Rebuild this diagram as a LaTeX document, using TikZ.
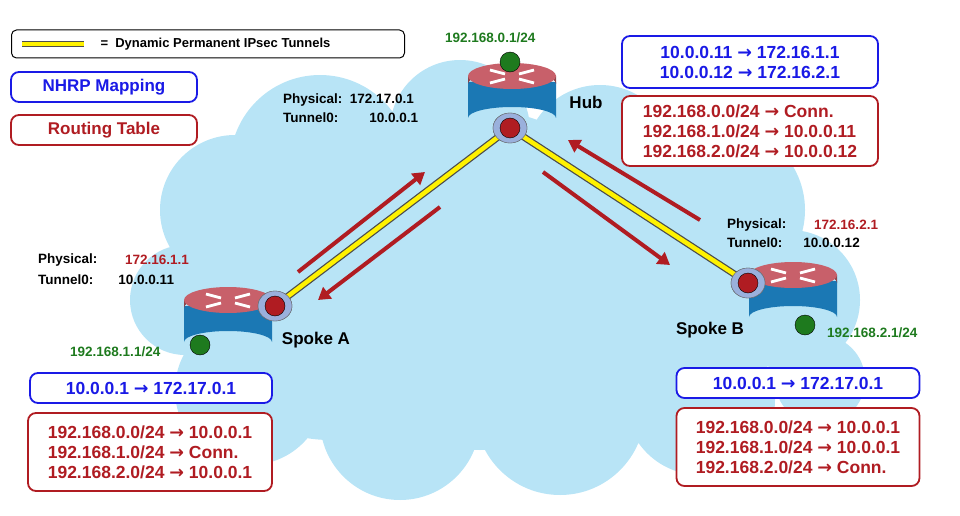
\documentclass[tikz,border=0pt]{standalone}
\usepackage{fontspec}
\setmainfont{Liberation Sans}
\newfontfamily\arrf{DejaVu Sans}
\newcommand{\ar}{{\arrf\bfseries →}}
\usetikzlibrary{arrows.meta,shapes.geometric}
\definecolor{cloud}{HTML}{B8E4F6}
\definecolor{nblue}{HTML}{1A1AE6}
\definecolor{nred}{HTML}{B01C22}
\definecolor{ngreen}{HTML}{1E7A1E}
\definecolor{rtop}{HTML}{C8606A}
\definecolor{rbody}{HTML}{1B78B4}
\definecolor{iface}{HTML}{9AB0DC}
\begin{document}
\begin{tikzpicture}[x=1pt,y=-1pt,
  box/.style={draw,rounded corners=8pt,line width=1.8pt,fill=white},
  bbox/.style={box,draw=nblue,text=nblue,font=\bfseries\fontsize{17.5}{20}\selectfont,align=center},
  rbox/.style={box,draw=nred,text=nred,font=\bfseries\fontsize{17.5}{20}\selectfont,align=left},
  lab/.style={font=\bfseries\fontsize{13.5}{15}\selectfont,anchor=west,inner sep=0},
  glab/.style={lab,text=ngreen},
  big/.style={font=\bfseries\fontsize{17}{19}\selectfont},
  tun/.style={draw=black!70,line width=7pt},
  tunin/.style={draw=yellow,line width=4.5pt},
  ifc/.style={ellipse,fill=iface,draw=black!60,minimum width=34pt,minimum height=30pt,inner sep=0},
  rarr/.style={draw=nred,line width=4pt,-{Triangle[length=12pt,width=14pt]}},
  router/.pic={
    \fill[rbody] (-44,0) -- (-44,36) arc[start angle=180,end angle=360,x radius=44,y radius=11] -- (44,0) -- cycle;
    \fill[rtop!70!black] (-44,-6) -- (-44,2) arc[start angle=180,end angle=360,x radius=44,y radius=13] -- (44,-6) -- cycle;
    \fill[rtop] (0,-6) ellipse[x radius=44,y radius=13];
    \draw[white,line width=2.8pt] (-22,-12) -- (-7,-8) (22,1) -- (7,-3) (22,-12) -- (7,-8) (-22,1) -- (-7,-3);
  }]
\useasboundingbox (0,0) rectangle (960,516);
% cloud
\fill[cloud] (235,210) circle[radius=75] (320,165) circle[radius=90] (460,130) circle[radius=70]
 (600,160) circle[radius=75] (720,210) circle[radius=85] (790,300) circle[radius=70]
 (700,400) circle[radius=75] (560,410) circle[radius=85] (400,420) circle[radius=80]
 (250,390) circle[radius=75] (185,300) circle[radius=55] (480,280) circle[radius=170]
 (620,300) circle[radius=140] (330,300) circle[radius=140] (820,380) circle[radius=45];
% legend
\node[draw,rounded corners=5pt,line width=1pt,minimum width=393pt,minimum height=28pt,fill=white] (leg) at (208,44) {};
\coordinate (ya) at (22,44); \coordinate (yb) at (84,44);
\draw[tun,line width=6pt] (ya) -- (yb); \draw[tunin,line width=3.5pt] (ya) -- (yb);
\node[font=\bfseries\fontsize{13}{15}\selectfont,anchor=west] (legt) at (97,44) {=\ \ Dynamic Permanent IPsec Tunnels};
\node[box,draw=nblue,text=nblue,minimum width=186pt,minimum height=30pt,font=\bfseries\fontsize{17}{19}\selectfont] (nm) at (104,87) {NHRP Mapping};
\node[box,draw=nred,text=nred,minimum width=186pt,minimum height=30pt,font=\bfseries\fontsize{17}{19}\selectfont] (rt) at (104,130) {Routing Table};
% routers
\pic at (512,82) {router};
\pic at (228,306) {router};
\pic at (793,281) {router};
\node[circle,fill=ngreen,draw=black,minimum size=20pt,inner sep=0] (hg) at (510,62) {};
\node[circle,fill=ngreen,draw=black,minimum size=20pt,inner sep=0] (ag) at (200,345) {};
\node[circle,fill=ngreen,draw=black,minimum size=20pt,inner sep=0] (bg) at (805,325) {};
% interfaces
\node[ifc] (hi) at (510,128) {};
\node[ifc] (ai) at (275,306) {};
\node[ifc] (bi) at (748,283) {};
% tunnels
\draw[tun] (hi.center) -- (ai.center); \draw[tunin] (hi.center) -- (ai.center);
\draw[tun] (hi.center) -- (bi.center); \draw[tunin] (hi.center) -- (bi.center);
\foreach \n in {hi,ai,bi}{
  \node[ifc] at (\n) {};
  \node[circle,fill=nred,draw=black,minimum size=20pt,inner sep=0] at (\n) {};}
% arrows
\coordinate (a1) at (298,272); \coordinate (a2) at (425,172);
\coordinate (a3) at (440,207); \coordinate (a4) at (318,300);
\coordinate (a5) at (543,172); \coordinate (a6) at (670,265);
\coordinate (a7) at (700,220); \coordinate (a8) at (568,140);
\draw[rarr] (a1) -- (a2); \draw[rarr] (a3) -- (a4);
\draw[rarr] (a5) -- (a6); \draw[rarr] (a7) -- (a8);
% labels
\node[glab] (hl) at (445,38) {192.168.0.1/24};
\node[big] (hubl) at (586,102) {Hub};
\node[lab] (hp) at (283,100) {Physical:\ \ 172.17.0.1};
\node[lab] (ht) at (283,118) {Tunnel0:\hspace{31pt}10.0.0.1};
\node[lab] (ap) at (38,260) {Physical:};
\node[lab,text=nred] (apv) at (125,260) {172.16.1.1};
\node[lab] (at) at (38,280) {Tunnel0:\hspace{25pt}10.0.0.11};
\node[big] (sal) at (316,340) {Spoke A};
\node[glab] (agl) at (70,352) {192.168.1.1/24};
\node[lab] (bp) at (727,225) {Physical:};
\node[lab,text=nred] (bpv) at (814,225) {172.16.2.1};
\node[lab] (bt) at (727,243) {Tunnel0:\hspace{21pt}10.0.0.12};
\node[big] (sbl) at (710,330) {Spoke B};
\node[glab] (bgl) at (827,333) {192.168.2.1/24};
% tables
\node[bbox,minimum width=256pt,minimum height=52pt] (hn) at (750,62) {10.0.0.11 \ar{} 172.16.1.1\\10.0.0.12 \ar{} 172.16.2.1};
\node[rbox,minimum width=256pt,minimum height=70pt] (hr) at (750,131) {192.168.0.0/24 \ar{} Conn.\\192.168.1.0/24 \ar{} 10.0.0.11\\192.168.2.0/24 \ar{} 10.0.0.12};
\node[bbox,minimum width=242pt,minimum height=30pt] (an) at (151,388) {10.0.0.1 \ar{} 172.17.0.1};
\node[rbox,minimum width=244pt,minimum height=78pt] (ar) at (150,452) {192.168.0.0/24 \ar{} 10.0.0.1\\192.168.1.0/24 \ar{} Conn.\\192.168.2.0/24 \ar{} 10.0.0.1};
\node[bbox,minimum width=243pt,minimum height=30pt] (bn) at (798,383) {10.0.0.1 \ar{} 172.17.0.1};
\node[rbox,minimum width=243pt,minimum height=78pt] (br) at (798,447) {192.168.0.0/24 \ar{} 10.0.0.1\\192.168.1.0/24 \ar{} 10.0.0.1\\192.168.2.0/24 \ar{} Conn.};
\end{tikzpicture}
\end{document}
